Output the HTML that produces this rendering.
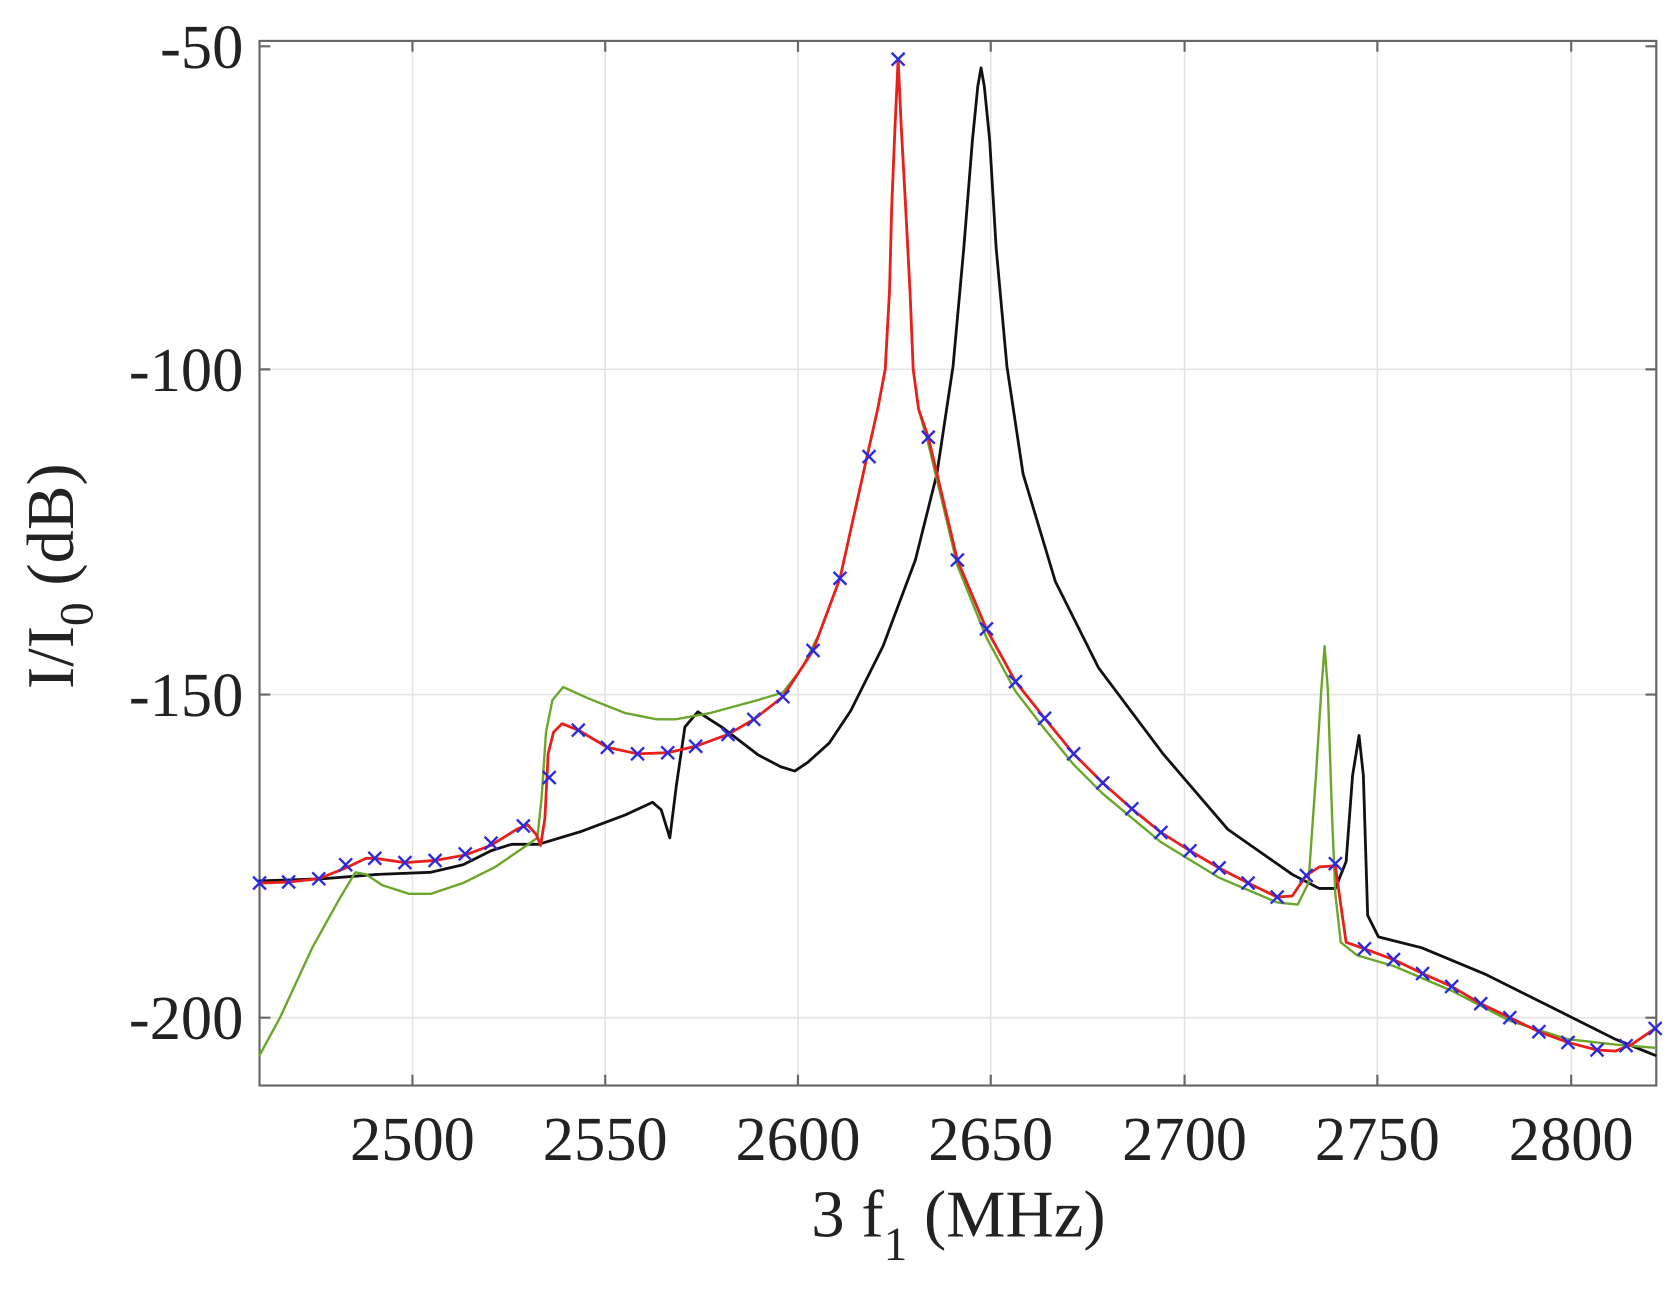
<!DOCTYPE html>
<html><head><meta charset="utf-8"><style>html,body{margin:0;padding:0;background:#fff}svg{display:block}</style></head>
<body>
<svg width="1680" height="1299" viewBox="0 0 1680 1299" xmlns="http://www.w3.org/2000/svg">
<rect width="1680" height="1299" fill="#fff"/>
<g transform="scale(1.0769)" font-family="Liberation Serif, serif" fill="#222">
<g stroke="#e4e4e4" stroke-width="1.5">
<line x1="383" y1="38" x2="383" y2="1008"/><line x1="562" y1="38" x2="562" y2="1008"/>
<line x1="741" y1="38" x2="741" y2="1008"/><line x1="920" y1="38" x2="920" y2="1008"/>
<line x1="1100" y1="38" x2="1100" y2="1008"/><line x1="1279" y1="38" x2="1279" y2="1008"/>
<line x1="1459" y1="38" x2="1459" y2="1008"/>
<line x1="241" y1="343" x2="1538" y2="343"/><line x1="241" y1="645" x2="1538" y2="645"/>
<line x1="241" y1="945" x2="1538" y2="945"/>
</g>
<g stroke="#666" stroke-width="2">
<rect x="241" y="38" width="1297" height="970" fill="none"/>
<path d="M383 1008v-10M562 1008v-10M741 1008v-10M920 1008v-10M1100 1008v-10M1279 1008v-10M1459 1008v-10M383 38v10M562 38v10M741 38v10M920 38v10M1100 38v10M1279 38v10M1459 38v10M241 43h10M241 343h10M241 645h10M241 945h10M1538 43h-10M1538 343h-10M1538 645h-10M1538 945h-10"/>
</g>
<g fill="none" stroke-linejoin="round" stroke-linecap="round">
<polyline stroke="#111" stroke-width="2.6" points="241,818 300,816 350,812 400,810 430,803 456,790 475,784 500,784 540,772 580,757 606,745 614,752 622,778 628,730 636,675 648,661 670,675 704,701 725,712 738,716 750,708 770,690 790,660 820,600 850,520 870,440 885,340 895,230 903,130 908,80 911,63 914,80 919,130 925,230 935,340 950,440 980,540 1020,620 1080,700 1140,770 1200,812 1225,825 1240,825 1250,800 1256,720 1262,683 1266,720 1270,850 1280,870 1320,880 1380,905 1440,935 1500,965 1537,980"/>
<polyline stroke="#6aa62a" stroke-width="2.2" points="241,980 260,945 290,880 315,835 330,810 340,812 355,822 380,830 400,830 430,820 460,805 492,783 499,778 503,740 507,680 513,650 523,638 545,648 580,662 610,668 627,668 660,662 704,650 727,643 745,620 760,590 780,537 804,429 815,380 822,343 826,270 828,193 831,120 834,60 837,120 841,193 845,270 848,343 853,380 862,412 889,525 916,592 943,642 970,677 997,710 1024,737 1078,782 1132,815 1186,838 1205,840 1215,820 1222,720 1227,640 1230,600 1233,640 1237,760 1240,830 1245,875 1260,887 1294,897 1348,920 1402,948 1456,965 1500,970 1537,973"/>
<polyline stroke="#e8201c" stroke-width="2.6" points="241,820 268,819 296,816 321,806 340,797 348,797 376,801 404,799 432,794 456,785 480,770 490,766 498,775 502,785 506,760 509,700 514,680 522,672 537,678 564,694 592,700 620,699 646,693 676,682 700,668 727,647 755,604 780,537 804,429 815,380 822,343 826,270 828,193 831,120 834,55 837,120 841,193 845,270 848,343 853,380 862,406 889,520 916,584 943,633 970,667 997,700 1024,727 1051,751 1078,773 1105,790 1132,806 1159,820 1186,833 1200,832 1208,820 1213,813 1225,805 1240,804 1245,840 1250,875 1267,881 1294,891 1321,904 1348,916 1375,932 1402,945 1429,958 1456,968 1483,975 1500,976 1515,970 1537,955"/>
</g>
<path stroke="#2a2ae0" stroke-width="2.2" fill="none" d="M235 814l12 12m0-12l-12 12M262 813l12 12m0-12l-12 12M290 810l12 12m0-12l-12 12M315 797l12 12m0-12l-12 12M342 791l12 12m0-12l-12 12M370 795l12 12m0-12l-12 12M398 793l12 12m0-12l-12 12M426 787l12 12m0-12l-12 12M450 777l12 12m0-12l-12 12M480 761l12 12m0-12l-12 12M504 716l12 12m0-12l-12 12M531 672l12 12m0-12l-12 12M558 688l12 12m0-12l-12 12M586 694l12 12m0-12l-12 12M614 693l12 12m0-12l-12 12M640 687l12 12m0-12l-12 12M670 676l12 12m0-12l-12 12M694 662l12 12m0-12l-12 12M721 641l12 12m0-12l-12 12M749 598l12 12m0-12l-12 12M774 531l12 12m0-12l-12 12M801 418l12 12m0-12l-12 12M828 49l12 12m0-12l-12 12M856 400l12 12m0-12l-12 12M883 514l12 12m0-12l-12 12M910 578l12 12m0-12l-12 12M937 627l12 12m0-12l-12 12M964 661l12 12m0-12l-12 12M991 694l12 12m0-12l-12 12M1018 721l12 12m0-12l-12 12M1045 745l12 12m0-12l-12 12M1072 767l12 12m0-12l-12 12M1099 784l12 12m0-12l-12 12M1126 800l12 12m0-12l-12 12M1153 814l12 12m0-12l-12 12M1180 827l12 12m0-12l-12 12M1207 807l12 12m0-12l-12 12M1234 796l12 12m0-12l-12 12M1261 875l12 12m0-12l-12 12M1288 885l12 12m0-12l-12 12M1315 898l12 12m0-12l-12 12M1342 910l12 12m0-12l-12 12M1369 926l12 12m0-12l-12 12M1396 939l12 12m0-12l-12 12M1423 952l12 12m0-12l-12 12M1450 962l12 12m0-12l-12 12M1477 969l12 12m0-12l-12 12M1504 965l12 12m0-12l-12 12M1531 949l12 12m0-12l-12 12"/>
<g font-size="58" text-anchor="end">
<text x="226" y="63">-50</text><text x="226" y="363">-100</text>
<text x="226" y="665">-150</text><text x="226" y="965">-200</text>
</g>
<g font-size="58" text-anchor="middle">
<text x="383" y="1077">2500</text><text x="562" y="1077">2550</text>
<text x="741" y="1077">2600</text><text x="920" y="1077">2650</text>
<text x="1100" y="1077">2700</text><text x="1279" y="1077">2750</text>
<text x="1459" y="1077">2800</text>
</g>
<text x="890" y="1148" font-size="62" text-anchor="middle">3 f<tspan font-size="44" dy="22">1</tspan><tspan dy="-22"> (MHz)</tspan></text>
<text transform="translate(68,535) rotate(-90)" font-size="62" text-anchor="middle">I/I<tspan font-size="44" dy="18">0</tspan><tspan dy="-18"> (dB)</tspan></text>
</g>
</svg>
</body></html>
